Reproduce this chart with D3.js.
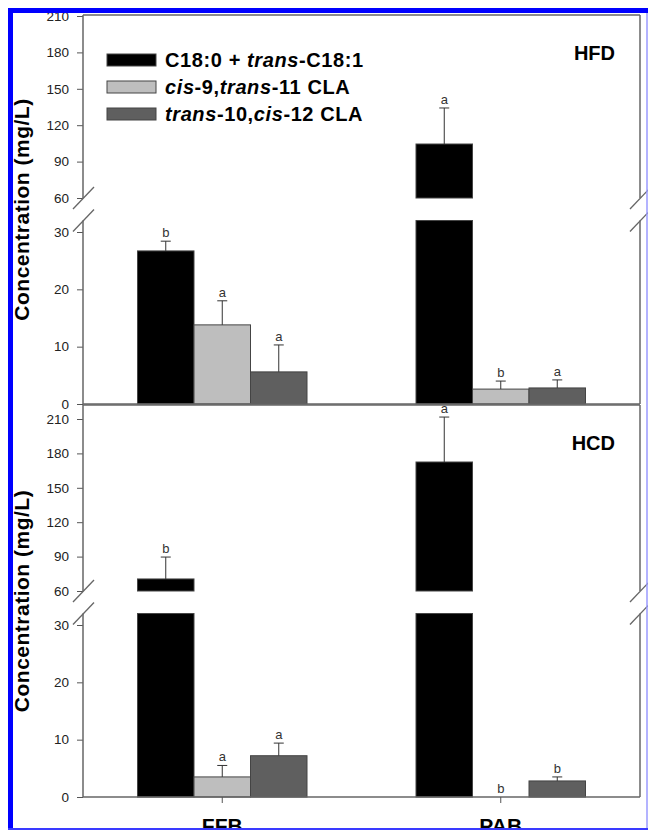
<!DOCTYPE html>
<html>
<head>
<meta charset="utf-8">
<script src="https://cdn.jsdelivr.net/npm/d3@7"></script>
<style>
  body { margin: 0; background: #fff; }
  svg { display: block; font-family: "Liberation Sans", Arial, sans-serif; }
  .tick text { font-size: 13.5px; fill: #222; }
  .tick line { stroke: #555; }
</style>
</head>
<body>
<script>
// Data
const categories = ["FFB", "PAB"];
const seriesKeys = ["c18", "c9t11", "t10c12"];
const seriesColors = ["#000000", "#bebebe", "#5f5f5f"];

// legend label pieces: [text, italic]
const legendLabels = [
    [["C18:0 + ", false], ["trans", true], ["-C18:1", false]],
    [["cis", true], ["-9,", false], ["trans", true], ["-11 CLA", false]],
    [["trans", true], ["-10,", false], ["cis", true], ["-12 CLA", false]]
];

// rows = categories, columns = series
const hfdMeans = [[26.7, 13.8, 5.6], [104.5, 2.6, 2.8]];
const hfdErrors = [[1.7, 4.2, 4.7], [29.7, 1.4, 1.4]];
const hfdLetters = [["b", "a", "a"], ["a", "b", "a"]];

const hcdMeans = [[70.5, 3.5, 7.2], [172.5, 0, 2.8]];
const hcdErrors = [[19.1, 2.0, 2.2], [39.2, 0, 0.7]];
const hcdLetters = [["b", "a", "a"], ["a", "b", "b"]];

const upperTicks = [60, 90, 120, 150, 180, 210];
const lowerTicks = [0, 10, 20, 30];
const breakLow = 32;   // top of the lower segment
const breakHigh = 60;  // bottom of the upper segment

const width = 648, height = 830;
const left = 83, right = 640;

const svg = d3.select("body")
    .append("svg")
    .attr("width", width)
    .attr("height", height);

// Category scales
const x0 = d3.scaleBand().domain(categories).range([left, right]);
const groupWidth = 169.5;
const x1 = d3.scaleBand().domain(seriesKeys).range([0, groupWidth]);
const barX = (c, k) => x0(c) + (x0.bandwidth() - groupWidth) / 2 + x1(k);

const panels = [
    { name: "HFD", top: 15, upperRange: [198, 16], lowerRange: [404, 232],
      means: hfdMeans, errors: hfdErrors, letters: hfdLetters, legend: true, xLabels: false },
    { name: "HCD", top: 405, upperRange: [591, 419], lowerRange: [797, 625],
      means: hcdMeans, errors: hcdErrors, letters: hcdLetters, legend: false, xLabels: true }
];

panels.forEach(p => {
    const g = svg.append("g");
    const upper = d3.scaleLinear().domain([60, 210]).range(p.upperRange);
    const lower = d3.scaleLinear().domain([0, 30]).range(p.lowerRange);
    const y = v => v <= breakLow ? lower(v) : upper(v);

    const rows = categories.flatMap((c, i) => seriesKeys.map((k, j) => ({
        c, k, j, v: p.means[i][j], e: p.errors[i][j], l: p.letters[i][j]
    })));

    // Bars (split into two pieces when they cross the break)
    const pieces = rows.flatMap(r => {
        if (r.v <= 0) return [];
        if (r.v <= breakLow) return [{ r, y0: lower(0), y1: lower(r.v) }];
        return [{ r, y0: lower(0), y1: lower(breakLow) }, { r, y0: upper(breakHigh), y1: upper(r.v) }];
    });

    g.selectAll("rect.bar")
        .data(pieces)
        .join("rect")
        .attr("class", "bar")
        .attr("x", d => barX(d.r.c, d.r.k))
        .attr("width", x1.bandwidth())
        .attr("y", d => d.y1)
        .attr("height", d => d.y0 - d.y1)
        .attr("fill", d => seriesColors[d.r.j])
        .attr("stroke", "#444")
        .attr("stroke-width", 1);

    // Error bars
    const withErr = rows.filter(r => r.e > 0);
    const cx = r => barX(r.c, r.k) + x1.bandwidth() / 2;
    g.selectAll("line.err")
        .data(withErr)
        .join("line")
        .attr("x1", cx).attr("x2", cx)
        .attr("y1", r => y(r.v))
        .attr("y2", r => y(r.v + r.e))
        .attr("stroke", "#333");
    g.selectAll("line.cap")
        .data(withErr)
        .join("line")
        .attr("x1", r => cx(r) - 5).attr("x2", r => cx(r) + 5)
        .attr("y1", r => y(r.v + r.e))
        .attr("y2", r => y(r.v + r.e))
        .attr("stroke", "#333");

    // Significance letters
    g.selectAll("text.letter")
        .data(rows)
        .join("text")
        .attr("x", cx)
        .attr("y", r => y(r.v + r.e) - 4)
        .attr("text-anchor", "middle")
        .style("font-size", "13px")
        .style("fill", "#333")
        .text(r => r.l);

    // Axes
    g.append("g")
        .attr("transform", `translate(${left},0)`)
        .call(d3.axisLeft(upper).tickValues(upperTicks).tickSize(6).tickPadding(8))
        .call(a => a.select(".domain").remove());
    g.append("g")
        .attr("transform", `translate(${left},0)`)
        .call(d3.axisLeft(lower).tickValues(lowerTicks).tickSize(6).tickPadding(8))
        .call(a => a.select(".domain").remove());

    // Frame lines (left/right broken, top and bottom)
    const frame = "#666";
    [left, right].forEach(xx => {
        g.append("line").attr("x1", xx).attr("x2", xx)
            .attr("y1", p.top).attr("y2", upper(breakHigh))
            .attr("stroke", frame).attr("stroke-width", 1.5);
        g.append("line").attr("x1", xx).attr("x2", xx)
            .attr("y1", lower(breakLow)).attr("y2", lower(0))
            .attr("stroke", frame).attr("stroke-width", 1.5);
        // break slashes
        [upper(breakHigh), lower(breakLow)].forEach(yy => {
            g.append("line")
                .attr("x1", xx - 10).attr("y1", yy + 11)
                .attr("x2", xx + 11).attr("y2", yy - 11)
                .attr("stroke", frame).attr("stroke-width", 1.3);
        });
    });
    g.append("line").attr("x1", left).attr("x2", right)
        .attr("y1", p.top).attr("y2", p.top)
        .attr("stroke", frame).attr("stroke-width", 1.5);
    g.append("line").attr("x1", left).attr("x2", right)
        .attr("y1", lower(0)).attr("y2", lower(0))
        .attr("stroke", frame).attr("stroke-width", 1.5);

    // Panel tag
    g.append("text")
        .attr("x", 615)
        .attr("y", p.top + 45)
        .attr("text-anchor", "end")
        .style("font-size", "20px")
        .style("font-weight", "bold")
        .text(p.name);

    // Y axis title
    g.append("text")
        .attr("transform", `translate(29,${(p.top + lower(0)) / 2}) rotate(-90)`)
        .attr("text-anchor", "middle")
        .style("font-size", "21px")
        .style("font-weight", "bold")
        .style("letter-spacing", "0.5px")
        .text("Concentration (mg/L)");

    // Category ticks and labels
    if (p.xLabels) {
        g.selectAll("line.xtick")
            .data(categories)
            .join("line")
            .attr("x1", c => x0(c) + x0.bandwidth() / 2)
            .attr("x2", c => x0(c) + x0.bandwidth() / 2)
            .attr("y1", lower(0)).attr("y2", lower(0) + 6)
            .attr("stroke", "#555");
        g.selectAll("text.xlab")
            .data(categories)
            .join("text")
            .attr("x", c => x0(c) + x0.bandwidth() / 2)
            .attr("y", 833)
            .attr("text-anchor", "middle")
            .style("font-size", "21px")
            .style("font-weight", "bold")
            .text(c => c);
    }

    // Legend
    if (p.legend) {
        const lg = g.append("g").attr("transform", "translate(107,54)");
        const item = lg.selectAll("g")
            .data(legendLabels)
            .join("g")
            .attr("transform", (d, i) => `translate(0,${i * 27})`);
        item.append("rect")
            .attr("width", 49).attr("height", 12)
            .attr("fill", (d, i) => seriesColors[i])
            .attr("stroke", "#444");
        const t = item.append("text")
            .attr("x", 58).attr("y", 13)
            .style("font-size", "20px")
            .style("font-weight", "bold")
            .style("letter-spacing", "0.6px");
        t.selectAll("tspan")
            .data(d => d)
            .join("tspan")
            .style("font-style", d => d[1] ? "italic" : "normal")
            .text(d => d[0]);
    }
});

// Blue border around the figure
svg.append("rect").attr("x", 8).attr("y", 8).attr("width", 5).attr("height", height - 8).attr("fill", "#0000ff");
svg.append("rect").attr("x", 8).attr("y", 8).attr("width", width - 8).attr("height", 5).attr("fill", "#0000ff");
svg.append("line").attr("x1", 647).attr("x2", 647).attr("y1", 13).attr("y2", height)
    .attr("stroke", "#9a9aff").attr("stroke-width", 1.5);
svg.append("line").attr("x1", 8).attr("x2", width).attr("y1", 829).attr("y2", 829)
    .attr("stroke", "#3a3aff").attr("stroke-width", 2);
</script>
</body>
</html>
